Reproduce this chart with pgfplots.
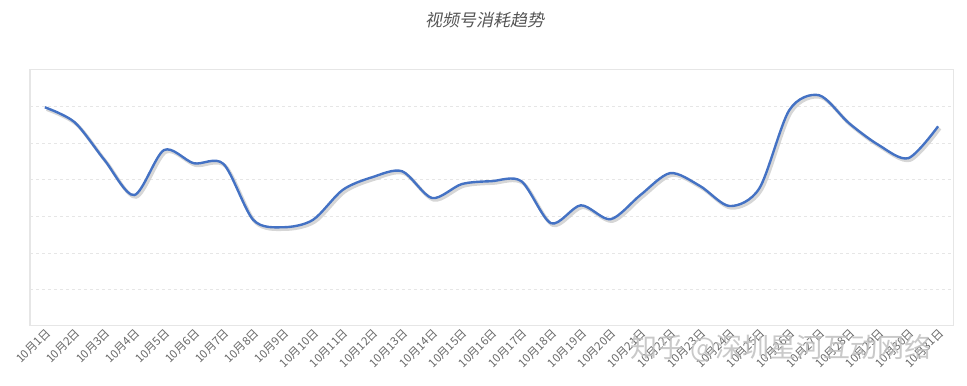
\documentclass[border=0pt]{standalone}
\usepackage{pgfplots}
\pgfplotsset{compat=1.18}
\usepackage{fontspec}
\setmainfont{Noto Sans CJK SC}
\newfontfamily\cjkslant[FakeSlant=0.2]{Noto Sans CJK SC}
\definecolor{lineblue}{RGB}{68,114,196}
\definecolor{gridc}{RGB}{230,230,230}
\definecolor{labc}{RGB}{105,105,105}
\begin{document}
\begin{tikzpicture}
\begin{axis}[
  scale only axis,
  width=923pt, height=256pt,
  xmin=-0.5, xmax=30.5, ymin=0, ymax=7,
  xtick={0,...,30},
  xticklabels={10月1日,10月2日,10月3日,10月4日,10月5日,10月6日,10月7日,10月8日,10月9日,10月10日,10月11日,10月12日,10月13日,10月14日,10月15日,10月16日,10月17日,10月18日,10月19日,10月20日,10月21日,10月22日,10月23日,10月24日,10月25日,10月26日,10月27日,10月28日,10月29日,10月30日,10月31日},
  x tick label style={rotate=45, anchor=north east, font=\fontsize{11.5}{13}\selectfont, text=labc, inner sep=1pt},
  ytick={1,...,6}, yticklabels={},
  major tick length=0pt,
  ymajorgrids, grid style={gridc, dashed, line width=0.6pt},
  axis line style={gridc, line width=1pt},
  clip=false,
]
\addplot[gray!40, line width=3.4pt, smooth, xshift=1.8pt, yshift=-2pt, opacity=0.8] coordinates {
(0,5.98)(1,5.57)(2,4.54)(3,3.58)(4,4.81)(5,4.45)(6,4.43)(7,2.90)(8,2.70)(9,2.90)(10,3.72)
(11,4.07)(12,4.23)(13,3.50)(14,3.88)(15,3.96)(16,3.96)(17,2.81)(18,3.30)(19,2.92)(20,3.58)
(21,4.18)(22,3.83)(23,3.28)(24,3.77)(25,5.90)(26,6.31)(27,5.55)(28,4.95)(29,4.59)(30,5.46)};
\addplot[lineblue, line width=2.4pt, smooth] coordinates {
(0,5.98)(1,5.57)(2,4.54)(3,3.58)(4,4.81)(5,4.45)(6,4.43)(7,2.90)(8,2.70)(9,2.90)(10,3.72)
(11,4.07)(12,4.23)(13,3.50)(14,3.88)(15,3.96)(16,3.96)(17,2.81)(18,3.30)(19,2.92)(20,3.58)
(21,4.18)(22,3.83)(23,3.28)(24,3.77)(25,5.90)(26,6.31)(27,5.55)(28,4.95)(29,4.59)(30,5.46)};
\end{axis}
\node[font=\cjkslant\fontsize{17}{19}\selectfont, text={rgb,255:red,85;green,85;blue,85}] at ([xshift=-7pt,yshift=50pt]current axis.north) {视频号消耗趋势};
\node[font=\fontsize{27}{30}\selectfont, text=gray!50, opacity=0.85] at ([xshift=-172pt,yshift=-22pt]current axis.south east) {知乎 @深圳星河互动网络};
\pgfresetboundingbox
\useasboundingbox ([xshift=-30pt,yshift=-60pt]current axis.south west) rectangle ([xshift=14pt,yshift=70pt]current axis.north east);
\end{tikzpicture}
\end{document}
